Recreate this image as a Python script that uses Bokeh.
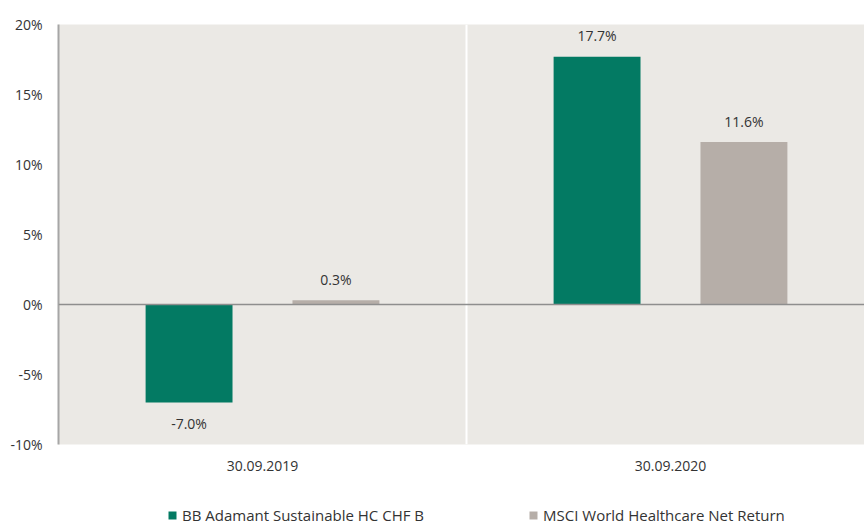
from bokeh.plotting import figure
from bokeh.layouts import column
from bokeh.models import ColumnDataSource, FixedTicker, Span, Legend, LegendItem, Range1d
from bokeh.core.properties import value
from bokeh.embed import file_html
from bokeh.resources import INLINE

categories = ["30.09.2019", "30.09.2020"]
series_names = ["BB Adamant Sustainable HC CHF B", "MSCI World Healthcare Net Return"]
fund_values = [-7.0, 17.7]
index_values = [0.3, 11.6]
y_ticks = [-10, -5, 0, 5, 10, 15, 20]
colors = ["#037A63", "#B6AEA8"]

FONT = "Open Sans"
TXT = "#333333"

cat_pos = [i + 0.5 for i in range(len(categories))]
offset = 0.18
bw = 0.213

fig = figure(width=864, height=490, output_backend="svg", toolbar_location=None,
             x_range=Range1d(0, 806 / 408), y_range=Range1d(-10, 20),
             min_border_left=58, min_border_right=0, min_border_top=24, min_border_bottom=46)
fig.background_fill_color = "#EBE9E5"
fig.border_fill_color = "white"
fig.outline_line_color = None

series = [(fund_values, -offset, colors[0]), (index_values, offset, colors[1])]
for vals, dx, col in series:
    xs = [c + dx for c in cat_pos]
    src = ColumnDataSource(dict(x=xs, top=vals,
                                label=[f"{v:.1f}%" for v in vals],
                                yoff=[-21 if v >= 0 else 21 for v in vals]))
    fig.vbar(x="x", top="top", bottom=0, width=bw, source=src, fill_color=col, line_color=None)
    fig.text(x="x", y="top", text="label", y_offset="yoff", source=src,
             text_align="center", text_baseline="middle", text_font=value(FONT),
             text_font_size="14px", text_color=TXT)

fig.add_layout(Span(location=0, dimension="width", line_color="#8E8E8E", line_width=1.5))

fig.ygrid.grid_line_color = None
fig.xgrid.ticker = FixedTicker(ticks=[1])
fig.xgrid.grid_line_color = "white"
fig.xgrid.grid_line_width = 2

fig.xaxis.ticker = FixedTicker(ticks=cat_pos)
fig.xaxis.major_label_overrides = {c: n for c, n in zip(cat_pos, categories)}
fig.xaxis.axis_line_color = None
fig.xaxis.major_tick_line_color = None
fig.xaxis.minor_tick_line_color = None
fig.xaxis.major_label_standoff = 10
fig.xaxis.major_label_text_font = FONT
fig.xaxis.major_label_text_font_size = "14px"
fig.xaxis.major_label_text_color = TXT

fig.yaxis.ticker = FixedTicker(ticks=y_ticks)
fig.yaxis.major_label_overrides = {t: f"{t}%" for t in y_ticks}
fig.yaxis.axis_line_color = "#A6A6A6"
fig.yaxis.axis_line_width = 2
fig.yaxis.major_tick_line_color = None
fig.yaxis.minor_tick_line_color = None
fig.yaxis.major_label_standoff = 10
fig.yaxis.major_label_text_font = FONT
fig.yaxis.major_label_text_font_size = "14px"
fig.yaxis.major_label_text_color = TXT

# legend strip (a separate, axis-less figure; its bars fall outside its view)
leg = figure(width=864, height=35, output_backend="svg", toolbar_location=None,
             x_axis_type=None, y_axis_type=None,
             x_range=Range1d(0, 1), y_range=Range1d(1000, 1001),
             min_border_left=0, min_border_right=0, min_border_top=0, min_border_bottom=0)
leg.grid.visible = False
leg.outline_line_color = None
leg.background_fill_color = "white"
leg.border_fill_color = "white"
leg_r = [leg.vbar(x=[c + dx for c in cat_pos], top=vals, width=bw, fill_color=col, line_color=None)
         for vals, dx, col in series]
legend = Legend(items=[LegendItem(label=n, renderers=[r]) for n, r in zip(series_names, leg_r)],
                orientation="horizontal", location=(109, 0), padding=0, margin=0,
                spacing=104, glyph_width=10, glyph_height=10, label_standoff=5, label_height=14,
                border_line_color=None, background_fill_alpha=0,
                label_text_font=FONT, label_text_font_size="15px", label_text_color=TXT)
leg.add_layout(legend)

p = column(fig, leg, spacing=0)
open("out.html", "w").write(file_html(p, INLINE))
